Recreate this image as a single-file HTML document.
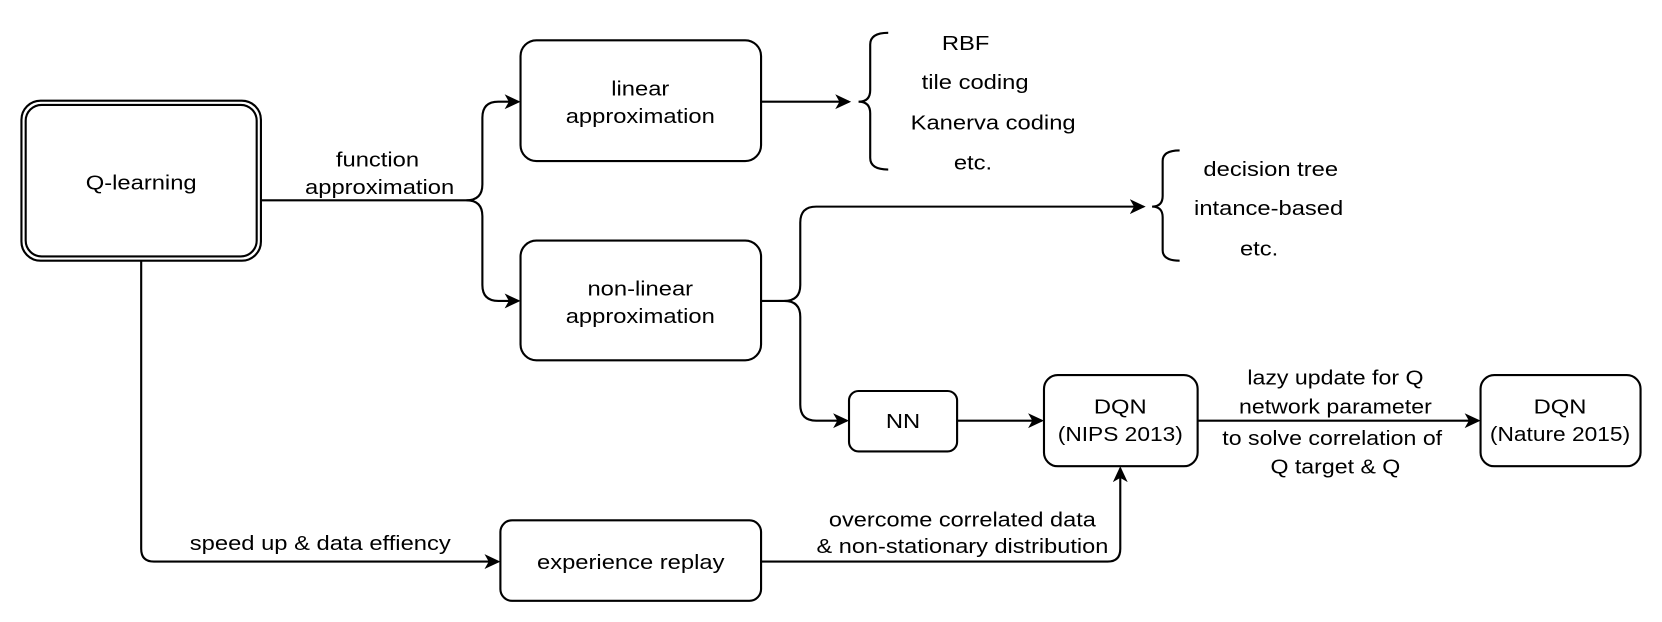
<!DOCTYPE html>
<html><head><style>
html,body{margin:0;padding:0;background:#fff;}
svg{display:block;}
text{font-family:"Liberation Sans",sans-serif;font-size:19.5px;fill:#000;text-anchor:middle;}
</style></head><body>
<svg width="1662" height="622" viewBox="0 0 1568 587" xmlns="http://www.w3.org/2000/svg">
<defs><marker id="a" markerWidth="16" markerHeight="16" refX="13" refY="8" orient="auto" markerUnits="userSpaceOnUse"><path d="M0,1 L15,8 L0,15 L4,8 Z" fill="#000"/></marker></defs>
<g fill="none" stroke="#000" stroke-width="2">
<rect x="20" y="95" width="226" height="151" rx="18"/>
<rect x="24" y="99" width="218" height="143" rx="15"/>
<rect x="491" y="38" width="227" height="114" rx="15"/>
<rect x="491" y="227" width="227" height="113" rx="15"/>
<rect x="801" y="369" width="102" height="57" rx="9"/>
<rect x="985" y="354" width="145" height="86" rx="13"/>
<rect x="1397" y="354" width="151" height="86" rx="13"/>
<rect x="472" y="491" width="246" height="76" rx="11"/>
<path d="M246,189 H440 Q455,189 455,174 V111 Q455,96 470,96 H489" marker-end="url(#a)"/>
<path d="M440,189 Q455,189 455,204 V269 Q455,284 470,284 H489" marker-end="url(#a)"/>
<path d="M718,96 H801" marker-end="url(#a)"/>
<path d="M718,284 H740 Q755,284 755,269 V210 Q755,195 770,195 H1079" marker-end="url(#a)"/>
<path d="M740,284 Q755,284 755,299 V382 Q755,397 770,397 H799" marker-end="url(#a)"/>
<path d="M903,397 H983" marker-end="url(#a)"/>
<path d="M1130,397 H1395" marker-end="url(#a)"/>
<path d="M133,246 V518 Q133,530 145,530 H470" marker-end="url(#a)"/>
<path d="M718,530 H1045 Q1057,530 1057,518 V442" marker-end="url(#a)"/>
<path d="M838,31 Q821,31 821,42 V85 Q821,96 810,96 Q821,96 821,107 V149 Q821,160 838,160"/>
<path d="M1113,142 Q1097,142 1097,152 V185 Q1097,195 1087,195 Q1097,195 1097,205 V236 Q1097,246 1113,246"/>
</g>
<g transform="translate(133,179) scale(1.15,1)"><text>Q-learning</text></g>
<g transform="translate(604,90) scale(1.15,1)"><text>linear</text></g>
<g transform="translate(604,116) scale(1.15,1)"><text>approximation</text></g>
<g transform="translate(604,279) scale(1.15,1)"><text>non-linear</text></g>
<g transform="translate(604,305) scale(1.15,1)"><text>approximation</text></g>
<g transform="translate(852,404) scale(1.15,1)"><text>NN</text></g>
<g transform="translate(1057,390) scale(1.15,1)"><text>DQN</text></g>
<g transform="translate(1057,416) scale(1.1,1)"><text>(NIPS 2013)</text></g>
<g transform="translate(1472,390) scale(1.15,1)"><text>DQN</text></g>
<g transform="translate(1472,416) scale(1.1,1)"><text>(Nature 2015)</text></g>
<g transform="translate(595,537) scale(1.15,1)"><text>experience replay</text></g>
<g transform="translate(356,157) scale(1.15,1)"><text>function</text></g>
<g transform="translate(358,183) scale(1.15,1)"><text>approximation</text></g>
<g transform="translate(911,47) scale(1.15,1)"><text>RBF</text></g>
<g transform="translate(920,84) scale(1.15,1)"><text>tile coding</text></g>
<g transform="translate(937,122) scale(1.15,1)"><text>Kanerva coding</text></g>
<g transform="translate(918,160) scale(1.15,1)"><text>etc.</text></g>
<g transform="translate(1199,166) scale(1.15,1)"><text>decision tree</text></g>
<g transform="translate(1197,203) scale(1.15,1)"><text>intance-based</text></g>
<g transform="translate(1188,241) scale(1.15,1)"><text>etc.</text></g>
<g transform="translate(1260,363) scale(1.12,1)"><text>lazy update for Q</text></g>
<g transform="translate(1260,390) scale(1.12,1)"><text>network parameter</text></g>
<g transform="translate(1257,420) scale(1.12,1)"><text>to solve correlation of</text></g>
<g transform="translate(1260,447) scale(1.12,1)"><text>Q target &amp; Q</text></g>
<g transform="translate(302,519) scale(1.15,1)"><text>speed up &amp; data effiency</text></g>
<g transform="translate(908,497) scale(1.14,1)"><text>overcome correlated data</text></g>
<g transform="translate(908,522) scale(1.14,1)"><text>&amp; non-stationary distribution</text></g>
</svg>
</body></html>
